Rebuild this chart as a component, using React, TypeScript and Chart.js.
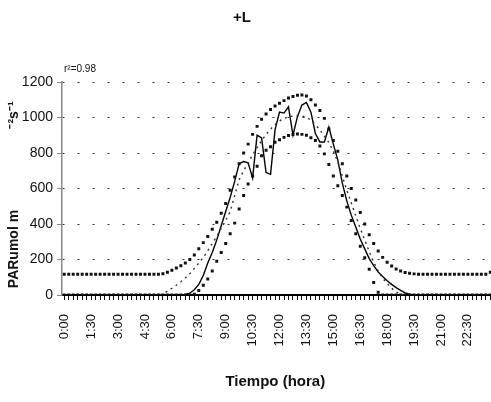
import React, { useEffect, useRef } from 'react';
import { Chart, registerables } from 'chart.js';

Chart.register(...registerables);

const FONT = "'Liberation Sans', Arial, sans-serif";

// 15-minute time steps over one day
const times = [
  '0:00', '0:15', '0:30', '0:45', '1:00', '1:15', '1:30', '1:45', '2:00', '2:15', '2:30', '2:45',
  '3:00', '3:15', '3:30', '3:45', '4:00', '4:15', '4:30', '4:45', '5:00', '5:15', '5:30', '5:45',
  '6:00', '6:15', '6:30', '6:45', '7:00', '7:15', '7:30', '7:45', '8:00', '8:15', '8:30', '8:45',
  '9:00', '9:15', '9:30', '9:45', '10:00', '10:15', '10:30', '10:45', '11:00', '11:15', '11:30', '11:45',
  '12:00', '12:15', '12:30', '12:45', '13:00', '13:15', '13:30', '13:45', '14:00', '14:15', '14:30', '14:45',
  '15:00', '15:15', '15:30', '15:45', '16:00', '16:15', '16:30', '16:45', '17:00', '17:15', '17:30', '17:45',
  '18:00', '18:15', '18:30', '18:45', '19:00', '19:15', '19:30', '19:45', '20:00', '20:15', '20:30', '20:45',
  '21:00', '21:15', '21:30', '21:45', '22:00', '22:15', '22:30', '22:45', '23:00', '23:15', '23:30', '23:45',
];

// Measured PAR (solid line)
const observed = [
  0, 0, 0, 0, 0, 0, 0, 0, 0, 0, 0, 0,
  0, 0, 0, 0, 0, 0, 0, 0, 0, 0, 0, 0,
  0, 0, 0, 3, 10, 30, 60, 110, 180, 240, 310, 390,
  470, 550, 640, 740, 752, 745, 660, 900, 885, 690, 680, 930,
  1030, 1025, 1060, 900, 1005, 1070, 1085, 1030, 910, 862, 862, 946,
  850, 760, 630, 530, 450, 383, 315, 260, 205, 165, 130, 104,
  80, 60, 42, 26, 12, 4, 0, 0, 0, 0, 0, 0,
  0, 0, 0, 0, 0, 0, 0, 0, 0, 0, 0, 0,
];

// Upper model envelope (square markers, night baseline)
const upperModel = [
  117, 117, 117, 117, 117, 117, 117, 117, 117, 117, 117, 117,
  117, 117, 117, 117, 117, 117, 117, 117, 117, 117, 120, 128,
  140, 152, 165, 180, 200, 225, 260, 295, 330, 370, 410, 460,
  515, 590, 665, 740, 800, 850, 905, 950, 990, 1020, 1045, 1065,
  1080, 1095, 1110, 1118, 1125, 1127, 1121, 1100, 1070, 1040, 995, 935,
  870, 810, 740, 670, 600, 535, 465, 400, 340, 290, 248, 212,
  185, 163, 147, 135, 127, 122, 119, 117, 117, 117, 117, 117,
  117, 117, 117, 117, 117, 117, 117, 117, 117, 117, 117, 128,
];

// Lower model envelope (square markers)
const lowerModel = [
  0, 0, 0, 0, 0, 0, 0, 0, 0, 0, 0, 0,
  0, 0, 0, 0, 0, 0, 0, 0, 0, 0, 0, 0,
  0, 0, 0, 0, 0, 5, 25, 55, 90, 135, 190, 240,
  290, 345, 405, 485, 560, 625, 670, 725, 785, 815, 835, 860,
  875, 888, 898, 904, 907, 905, 900, 886, 870, 840, 795, 735,
  670, 615, 560, 495, 420, 345, 275, 210, 145, 70, 15, 0,
  0, 0, 0, 0, 0, 0, 0, 0, 0, 0, 0, 0,
  0, 0, 0, 0, 0, 0, 0, 0, 0, 0, 0, 0,
];

// Fitted curve (fine dotted line)
const fitted = [
  0, 0, 0, 0, 0, 0, 0, 0, 0, 0, 0, 0,
  0, 0, 0, 0, 0, 0, 0, 0, 0, 0, 5, 22,
  38, 55, 75, 96, 120, 150, 180, 212, 250, 290, 330, 375,
  420, 470, 560, 650, 700, 745, 790, 830, 870, 905, 935, 960,
  980, 995, 1005, 1008, 1010, 1008, 1000, 985, 960, 930, 895, 860,
  810, 750, 670, 590, 520, 445, 375, 310, 245, 185, 135, 95,
  65, 38, 18, 5, 0, 0, 0, 0, 0, 0, 0, 0,
  0, 0, 0, 0, 0, 0, 0, 0, 0, 0, 0, 0,
];

const yMin = 0;
const yMax = 1200;
const yStep = 200;
const labelEvery = 6;

const chartTitle = '+L';
const fitNote = 'r²=0.98';
const xTitle = 'Tiempo (hora)';
const yTitleMain = 'PARumol m';
const yTitleUnits = '⁻²s⁻¹';

const textPlugin = {
  id: 'chartTexts',
  afterDraw(chart: any) {
    const { ctx, chartArea } = chart;
    const { left, right, top, bottom } = chartArea;
    ctx.save();
    ctx.fillStyle = '#111';

    ctx.font = `bold 15px ${FONT}`;
    ctx.textAlign = 'center';
    ctx.textBaseline = 'middle';
    ctx.fillText(chartTitle, left + 180, top - 64);

    ctx.font = `10px ${FONT}`;
    ctx.textAlign = 'left';
    ctx.fillText(fitNote, left + 2, top - 13);

    ctx.font = `bold 15px ${FONT}`;
    ctx.textAlign = 'center';
    ctx.fillText(xTitle, (left + right) / 2 - 2, bottom + 87);

    ctx.translate(14, 0);
    ctx.rotate(-Math.PI / 2);
    ctx.font = `bold 14px ${FONT}`;
    ctx.textAlign = 'center';
    ctx.fillText(yTitleMain, -(bottom - 46), 0);
    ctx.font = `bold 14px ${FONT}`;
    ctx.fillText(yTitleUnits, -(top + 33), 0);
    ctx.restore();
  },
};

export default function App() {
  const canvasRef = useRef<HTMLCanvasElement>(null);

  useEffect(() => {
    const canvas = canvasRef.current;
    if (!canvas) return;

    const markerSet = (data: number[]) => ({
      data,
      showLine: false,
      pointStyle: 'rect' as const,
      pointRadius: 2.1,
      pointBackgroundColor: '#111',
      pointBorderWidth: 0,
      borderColor: '#111',
    });

    const chart = new Chart(canvas, {
      type: 'line',
      data: {
        labels: times,
        datasets: [
          { label: 'upper', ...markerSet(upperModel) },
          { label: 'lower', ...markerSet(lowerModel) },
          {
            label: 'fitted',
            data: fitted,
            borderColor: '#333',
            borderWidth: 1.4,
            borderDash: [2, 4],
            pointRadius: 0,
            tension: 0,
          },
          {
            label: 'observed',
            data: observed,
            borderColor: '#000',
            borderWidth: 1.4,
            pointRadius: 0,
            tension: 0,
          },
        ],
      },
      options: {
        responsive: false,
        animation: false,
        devicePixelRatio: 1,
        layout: { padding: { top: 82, right: 18, bottom: 0, left: 0 } },
        plugins: {
          legend: { display: false },
          tooltip: { enabled: false },
          title: { display: false },
        },
        scales: {
          x: {
            type: 'category',
            offset: true,
            grid: {
              drawOnChartArea: false,
              drawTicks: true,
              tickLength: 5,
              tickColor: '#111',
              tickWidth: 1,
            },
            border: { color: '#000', width: 2 },
            ticks: {
              autoSkip: false,
              maxRotation: 90,
              minRotation: 90,
              padding: 14,
              color: '#111',
              font: { family: FONT, size: 13 },
              callback: (_v: any, i: number) => (i % labelEvery === 0 ? times[i] : ''),
            },
            afterFit: (scale: any) => {
              scale.height = 107;
            },
          },
          y: {
            min: yMin,
            max: yMax,
            grid: {
              color: '#333',
              lineWidth: 1,
              tickLength: 5,
              tickColor: '#888',
              tickBorderDash: [],
            },
            border: { color: '#888', width: 1.5, dash: [2, 13] },
            ticks: {
              stepSize: yStep,
              padding: 4,
              color: '#111',
              font: { family: FONT, size: 14 },
              callback: (v: any) => String(v),
            },
            afterFit: (scale: any) => {
              scale.width = 62;
            },
          },
        },
      },
      plugins: [textPlugin],
    });

    return () => chart.destroy();
  }, []);

  return (
    <div
      style={{
        position: 'absolute',
        left: 0,
        top: 0,
        width: 491,
        height: 402,
        overflow: 'hidden',
        background: '#fff',
      }}
    >
      <canvas ref={canvasRef} width={520} height={402} style={{ display: 'block' }} />
    </div>
  );
}
